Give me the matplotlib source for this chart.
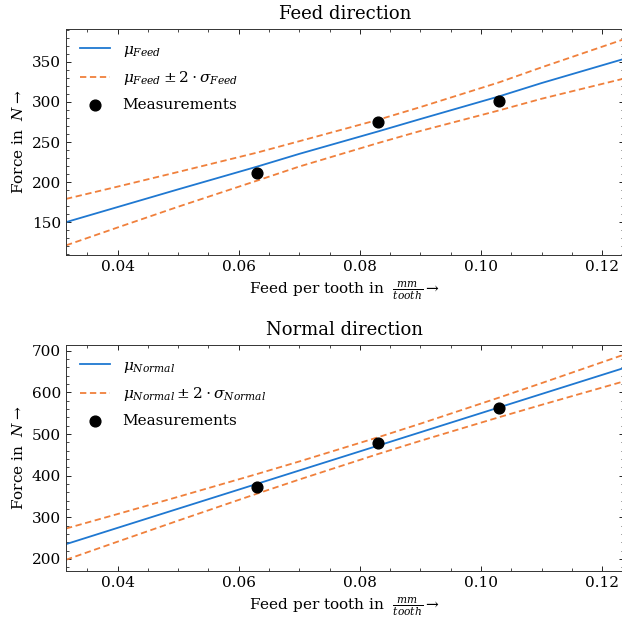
import matplotlib
matplotlib.use("Agg")
import matplotlib.pyplot as plt
from matplotlib.ticker import AutoMinorLocator, MultipleLocator

# ---- data ----
feed_meas = [0.063, 0.083, 0.103]
force_feed_meas = [211.5, 275.0, 301.5]
force_normal_meas = [373.5, 479.5, 562.0]

x_curve = [0.0315, 0.04, 0.05, 0.063, 0.07, 0.083, 0.09, 0.103, 0.11, 0.1235]
mu_feed = [150.0, 168.8, 190.9, 219.2, 235.2, 263.2, 278.7, 307.0, 323.6, 353.5]
upper_feed = [179.0, 194.3, 212.6, 236.7, 251.0, 277.7, 293.6, 324.5, 343.2, 378.0]
lower_feed = [121.0, 143.3, 169.2, 201.7, 219.4, 248.7, 263.8, 289.5, 304.0, 329.0]

mu_normal = [235.5, 274.6, 320.6, 380.3, 412.5, 472.2, 504.4, 564.2, 596.4, 658.4]
upper_normal = [273.0, 307.8, 349.2, 403.9, 434.2, 492.3, 525.0, 587.8, 622.5, 690.4]
lower_normal = [198.0, 241.4, 292.0, 356.7, 390.8, 452.1, 483.8, 540.6, 570.3, 626.4]

titles = ["Feed direction", "Normal direction"]
names = ["Feed", "Normal"]

plt.rcParams.update({
    "font.family": "DejaVu Serif",
    "mathtext.fontset": "dejavuserif",
    "font.size": 11,
    "xtick.direction": "in",
    "ytick.direction": "in",
    "xtick.top": True,
    "ytick.right": True,
    "xtick.major.size": 3.5,
    "ytick.major.size": 3.5,
    "xtick.minor.size": 2,
    "ytick.minor.size": 2,
    "xtick.major.width": 0.6,
    "ytick.major.width": 0.6,
    "xtick.minor.width": 0.5,
    "ytick.minor.width": 0.5,
    "axes.linewidth": 0.7,
    "axes.edgecolor": "#333333",
})

BLUE = "#1f78d1"
ORANGE = "#f0803c"

W, H = 622, 621
fig = plt.figure(figsize=(W / 100, H / 100), dpi=100)
ax1 = fig.add_axes([66 / W, 1 - 255 / H, (623.5 - 66) / W, (255 - 29) / H])
ax2 = fig.add_axes([66 / W, 1 - 571 / H, (623.5 - 66) / W, (571 - 345) / H])

datasets = [
    (ax1, mu_feed, upper_feed, lower_feed, force_feed_meas, (109, 391), 50),
    (ax2, mu_normal, upper_normal, lower_normal, force_normal_meas, (171, 714), 100),
]

for (ax, mu, up, lo, meas, ylim, ystep), title, name in zip(datasets, titles, names):
    ax.plot(x_curve, mu, color=BLUE, lw=1.3, label=rf"$\mu_{{{name}}}$")
    ax.plot(x_curve, up, color=ORANGE, lw=1.3, ls=(0, (3.5, 2)),
            label=rf"$\mu_{{{name}}} \pm 2 \cdot \sigma_{{{name}}}$")
    ax.plot(x_curve, lo, color=ORANGE, lw=1.3, ls=(0, (3.5, 2)))
    ax.scatter(feed_meas, meas, color="black", s=60, zorder=3, label="Measurements")
    ax.set_xlim(0.0315, 0.1235)
    ax.set_ylim(*ylim)
    ax.xaxis.set_major_locator(MultipleLocator(0.02))
    ax.yaxis.set_major_locator(MultipleLocator(ystep))
    ax.xaxis.set_minor_locator(AutoMinorLocator())
    ax.yaxis.set_minor_locator(AutoMinorLocator())
    ax.set_title(title, fontsize=13, pad=7)
    ax.set_xlabel(r"Feed per tooth in  $\frac{mm}{tooth} \rightarrow$")
    ax.set_ylabel(r"Force in  $N \rightarrow$")
    ax.legend(loc="upper left", frameon=False, fontsize=11, labelspacing=0.7)

fig.savefig("out.png", dpi=100)
